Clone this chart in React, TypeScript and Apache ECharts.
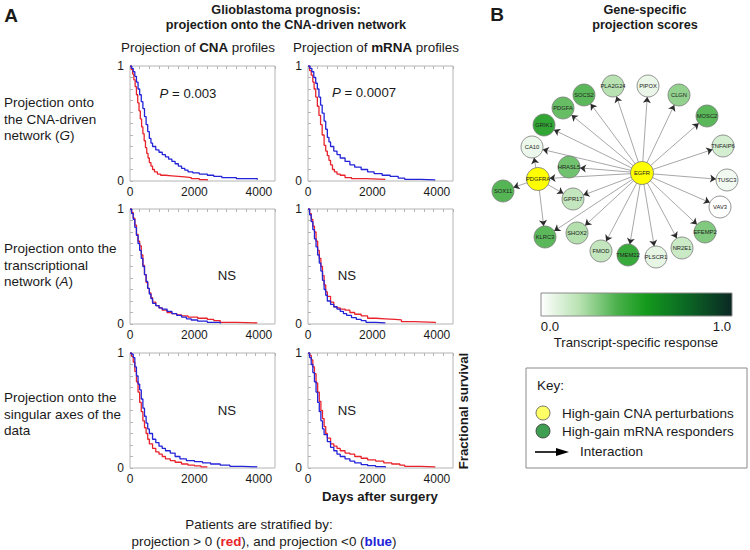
import React, { useEffect, useRef } from 'react';
import * as echarts from 'echarts';

// ---------- survival curves (days, fraction surviving) ----------
const cnaG_red = [[0,1],[40,0.97],[80,0.93],[120,0.88],[160,0.82],[200,0.75],[240,0.68],[280,0.61],[320,0.54],[360,0.47],[400,0.41],[440,0.35],[480,0.29],[520,0.24],[560,0.2],[600,0.16],[650,0.13],[700,0.1],[760,0.08],[850,0.06],[950,0.05],[1100,0.045],[1300,0.04],[1500,0.035],[1700,0.03],[1900,0.02],[2150,0.012],[2400,0.005]];
const cnaG_blue = [[0,1],[50,0.98],[100,0.95],[150,0.91],[200,0.86],[250,0.8],[300,0.75],[350,0.69],[400,0.63],[450,0.56],[500,0.49],[550,0.43],[600,0.37],[650,0.33],[700,0.3],[800,0.27],[900,0.25],[1000,0.23],[1100,0.21],[1200,0.19],[1300,0.17],[1400,0.15],[1500,0.13],[1600,0.11],[1700,0.095],[1800,0.08],[1950,0.07],[2150,0.06],[2400,0.05],[2600,0.04],[2850,0.03],[3300,0.02],[3950,0.01]];
const mrnaG_red = [[0,1],[50,0.96],[100,0.92],[150,0.86],[190,0.8],[240,0.73],[290,0.65],[340,0.57],[390,0.49],[440,0.4],[500,0.31],[550,0.26],[600,0.22],[650,0.18],[700,0.14],[760,0.1],[820,0.08],[900,0.06],[1000,0.05],[1150,0.03],[1350,0.02],[1800,0.015],[2400,0.01]];
const mrnaG_blue = [[0,1],[60,0.98],[120,0.95],[180,0.9],[240,0.85],[290,0.8],[340,0.73],[390,0.66],[440,0.59],[500,0.52],[550,0.45],[600,0.38],[650,0.34],[700,0.3],[800,0.26],[900,0.23],[1000,0.2],[1150,0.17],[1300,0.14],[1450,0.12],[1650,0.1],[1850,0.08],[2050,0.065],[2300,0.05],[2550,0.04],[2800,0.025],[3000,0.015],[3500,0.01],[3950,0.005]];
const cnaA_red = [[0,1],[50,0.97],[100,0.92],[150,0.86],[200,0.78],[250,0.72],[300,0.68],[350,0.6],[400,0.51],[450,0.43],[500,0.36],[550,0.31],[600,0.27],[650,0.23],[700,0.19],[800,0.16],[900,0.14],[1000,0.12],[1150,0.1],[1300,0.09],[1450,0.08],[1600,0.07],[1800,0.06],[2100,0.05],[2400,0.04],[2600,0.03],[2800,0.015],[3300,0.01],[3950,0.005]];
const cnaA_blue = [[0,1],[50,0.96],[100,0.91],[150,0.84],[200,0.77],[250,0.7],[300,0.64],[350,0.57],[400,0.5],[450,0.43],[500,0.37],[550,0.31],[600,0.26],[650,0.22],[700,0.18],[800,0.16],[900,0.14],[1000,0.13],[1150,0.11],[1300,0.09],[1450,0.075],[1600,0.06],[1750,0.045],[1900,0.035],[2100,0.025],[2400,0.015],[2800,0.005]];
const mrnaA_red = [[0,1],[50,0.96],[100,0.91],[150,0.85],[200,0.8],[250,0.72],[300,0.64],[350,0.57],[400,0.5],[450,0.42],[500,0.34],[550,0.28],[600,0.24],[700,0.19],[800,0.15],[900,0.14],[1000,0.13],[1150,0.12],[1300,0.1],[1450,0.085],[1650,0.07],[1850,0.05],[2100,0.045],[2400,0.04],[2700,0.035],[2900,0.02],[3300,0.015],[3950,0.006]];
const mrnaA_blue = [[0,1],[50,0.95],[100,0.89],[150,0.82],[200,0.74],[250,0.67],[300,0.6],[350,0.53],[400,0.46],[450,0.38],[500,0.3],[550,0.25],[600,0.2],[700,0.17],[800,0.15],[900,0.13],[1000,0.11],[1100,0.09],[1200,0.075],[1350,0.055],[1500,0.04],[1650,0.03],[1800,0.015],[2100,0.01],[2400,0.005]];
const cnaS_red = [[0,1],[50,0.97],[100,0.92],[150,0.84],[200,0.75],[250,0.66],[300,0.57],[350,0.49],[400,0.41],[450,0.35],[500,0.3],[550,0.25],[600,0.21],[700,0.17],[800,0.14],[900,0.12],[1000,0.1],[1100,0.08],[1250,0.065],[1400,0.05],[1600,0.035],[1800,0.025],[2000,0.018],[2200,0.01],[2400,0.005]];
const cnaS_blue = [[0,1],[50,0.99],[100,0.96],[150,0.88],[200,0.8],[250,0.73],[300,0.68],[350,0.6],[400,0.52],[450,0.45],[500,0.39],[550,0.34],[600,0.3],[700,0.25],[800,0.22],[900,0.19],[1000,0.17],[1100,0.15],[1250,0.13],[1400,0.1],[1550,0.08],[1750,0.065],[2000,0.055],[2250,0.045],[2500,0.035],[2800,0.025],[3100,0.015],[3500,0.01],[3950,0.005]];
const mrnaS_red = [[0,1],[50,0.98],[100,0.94],[150,0.88],[200,0.82],[250,0.74],[300,0.66],[350,0.58],[400,0.5],[450,0.43],[500,0.36],[550,0.3],[600,0.26],[700,0.21],[800,0.19],[900,0.17],[1000,0.15],[1150,0.13],[1300,0.12],[1450,0.1],[1650,0.085],[1850,0.07],[2100,0.06],[2350,0.045],[2600,0.035],[2850,0.025],[3000,0.015],[3500,0.01],[3950,0.005]];
const mrnaS_blue = [[0,1],[50,0.96],[100,0.9],[150,0.83],[200,0.75],[250,0.66],[300,0.57],[350,0.49],[400,0.41],[450,0.34],[500,0.29],[600,0.23],[700,0.18],[800,0.15],[900,0.12],[1000,0.1],[1150,0.08],[1300,0.06],[1450,0.045],[1650,0.03],[1850,0.02],[2100,0.012],[2400,0.005]];

const panelRed = [cnaG_red, mrnaG_red, cnaA_red, mrnaA_red, cnaS_red, mrnaS_red];
const panelBlue = [cnaG_blue, mrnaG_blue, cnaA_blue, mrnaA_blue, cnaS_blue, mrnaS_blue];
const panelNotes = ['P = 0.003', 'P = 0.0007', 'NS', 'NS', 'NS', 'NS'];

const xTickLabels = [0, 2000, 4000];
const yTickLabels = [0, 1];
const X_MAX = 4500;

// ---------- network ----------
const geneNames = ['EGFR','PDGFRA','GRIK1','PDGFA','SOCS2','PLA2G24','PIPOX','CLGN','MOSC2','TNFAIP6','TUSC3','VAV3','EFEMP2','NR2E1','PLSCR1','TMEM22','FMOD','SHOX2','KLRC3','GPR17','SOX11','CA10','HRASL5'];
const geneX = [642,538,544,563,584,613,648,679,707,723,727,720,705,682,656,628,601,577,545,573,503,532,569];
const geneY = [173,179,125,108,95,86,86,95,116,146,180,207,232,248,257,255,251,233,237,199,191,147,167];
// transcript-specific response (null = CNA perturbation, drawn yellow)
const geneScore = [null,null,0.47,0.35,0.37,0.2,0.06,0.27,0.37,0.12,0.04,0.0,0.3,0.15,0.07,0.45,0.17,0.21,0.37,0.17,0.38,0.05,0.33];
const interactions: [string, string][] = [
  ['EGFR','PDGFRA'],['EGFR','GRIK1'],['EGFR','PDGFA'],['EGFR','SOCS2'],['EGFR','PLA2G24'],['EGFR','PIPOX'],
  ['EGFR','CLGN'],['EGFR','MOSC2'],['EGFR','TNFAIP6'],['EGFR','TUSC3'],['EGFR','VAV3'],['EGFR','EFEMP2'],
  ['EGFR','NR2E1'],['EGFR','PLSCR1'],['EGFR','TMEM22'],['EGFR','FMOD'],['EGFR','SHOX2'],['EGFR','KLRC3'],
  ['EGFR','GPR17'],['EGFR','CA10'],['EGFR','HRASL5'],
  ['PDGFRA','SOX11'],['PDGFRA','GPR17'],['PDGFRA','KLRC3'],['PDGFRA','CA10'],
];

const cbarStops = [0, 0.2, 0.4, 0.55, 0.75, 1];
const cbarColors = ['#ffffff', '#b8e2b2', '#4ab04a', '#149a1c', '#0b6a24', '#0b2824'];

const FF = '"Liberation Sans", Arial, Helvetica, sans-serif';

function hexToRgb(h: string) {
  const n = parseInt(h.slice(1), 16);
  return [(n >> 16) & 255, (n >> 8) & 255, n & 255];
}
function scoreColor(v: number) {
  for (let i = 1; i < cbarStops.length; i++) {
    if (v <= cbarStops[i]) {
      const t = (v - cbarStops[i - 1]) / (cbarStops[i] - cbarStops[i - 1]);
      const a = hexToRgb(cbarColors[i - 1]);
      const b = hexToRgb(cbarColors[i]);
      const c = a.map((x, k) => Math.round(x + (b[k] - x) * t));
      return `rgb(${c[0]},${c[1]},${c[2]})`;
    }
  }
  return cbarColors[cbarColors.length - 1];
}

const colLeft = [130, 308];
const rowTop = [66, 209, 353];
const PW = 145;
const PH = 115;

function txt(x: number, y: number, text: string, size: number, opts: any = {}) {
  return {
    type: 'text', x, y, silent: true,
    rotation: opts.rotation || 0,
    style: {
      text, fontSize: size, fontFamily: FF, fontWeight: opts.bold ? 'bold' : 'normal',
      fontStyle: opts.italic ? 'italic' : 'normal',
      fill: opts.color || '#1a1a1a',
      align: opts.align || 'center', textAlign: opts.align || 'center',
      verticalAlign: 'middle', textVerticalAlign: 'middle',
      rich: opts.rich, lineHeight: opts.lineHeight,
    },
  };
}

function buildOption() {
  const grid: any[] = [];
  const xAxis: any[] = [];
  const yAxis: any[] = [];
  const series: any[] = [];
  const graphic: any[] = [];

  for (let i = 0; i < 6; i++) {
    const r = Math.floor(i / 2), c = i % 2;
    grid.push({ left: colLeft[c], top: rowTop[r], width: PW, height: PH, show: true, borderColor: '#b4b4b4', borderWidth: 1, containLabel: false, outerBoundsMode: 'none' });
    xAxis.push({
      gridIndex: i, type: 'value', min: 0, max: X_MAX, interval: 2000, position: 'bottom',
      axisLine: { show: false }, axisTick: { show: false }, splitLine: { show: false },
      axisLabel: { fontSize: 12, color: '#1a1a1a', fontFamily: FF, margin: 5,
        formatter: (v: number) => (xTickLabels.includes(v) ? String(v) : '') },
    });
    xAxis.push({
      gridIndex: i, type: 'value', min: 0, max: X_MAX, interval: 300, position: 'top',
      axisLine: { show: false }, splitLine: { show: false }, axisLabel: { show: false },
      axisTick: { show: true, inside: true, length: 3, lineStyle: { color: '#b4b4b4' } },
    });
    yAxis.push({
      gridIndex: i, type: 'value', min: 0, max: 1, interval: 0.1,
      axisLine: { show: false }, splitLine: { show: false },
      axisTick: { show: true, inside: true, length: 3, lineStyle: { color: '#b4b4b4' } },
      axisLabel: { fontSize: 12, color: '#1a1a1a', fontFamily: FF, margin: 6,
        formatter: (v: number) => { const k = yTickLabels.find((t) => Math.abs(t - v) < 1e-6); return k === undefined ? '' : String(k); } },
    });
    series.push({ type: 'line', xAxisIndex: 2 * i, yAxisIndex: i, data: panelRed[i], step: 'end', symbol: 'none', silent: true, lineStyle: { width: 1.3, color: '#e8232b' }, z: 2 });
    series.push({ type: 'line', xAxisIndex: 2 * i, yAxisIndex: i, data: panelBlue[i], step: 'end', symbol: 'none', silent: true, lineStyle: { width: 1.3, color: '#2323d8' }, z: 3 });
  }

  // network grid
  grid.push({ left: 480, top: 60, width: 270, height: 230, show: false, containLabel: false, outerBoundsMode: 'none' });
  xAxis.push({ gridIndex: 6, type: 'value', min: 480, max: 750, show: false });
  yAxis.push({ gridIndex: 6, type: 'value', min: 60, max: 290, inverse: true, show: false });

  const nodes = geneNames.map((name, k) => {
    const s = geneScore[k];
    const pert = s === null;
    return {
      name, value: [geneX[k], geneY[k]],
      symbolSize: pert ? 23 : 22,
      itemStyle: { color: pert ? '#ffff00' : scoreColor(s as number), borderColor: '#7a7a7a', borderWidth: 0.8 },
    };
  });
  const links = interactions.map(([s, t]) => ({ source: s, target: t }));
  series.push({
    type: 'graph', coordinateSystem: 'cartesian2d', xAxisIndex: 12, yAxisIndex: 6,
    data: nodes, links, silent: true, z: 3,
    edgeSymbol: ['none', 'none'],
    lineStyle: { color: '#a8a8a8', width: 1, opacity: 1, curveness: 0 },
    label: { show: true, position: 'inside', fontSize: 5.8, color: '#222', fontFamily: FF },
    emphasis: { disabled: true },
  });
  series.push({
    type: 'graph', coordinateSystem: 'cartesian2d', xAxisIndex: 12, yAxisIndex: 6,
    data: nodes.map((n) => ({ ...n, itemStyle: { opacity: 0 } })), links, silent: true, z: 4,
    edgeSymbol: ['none', 'arrow'], edgeSymbolSize: [0, 6],
    lineStyle: { color: '#2a2a2a', width: 0, opacity: 1, curveness: 0 },
    label: { show: false },
    emphasis: { disabled: true },
  });

  // ---------- texts panel A ----------
  graphic.push(txt(11, 15, 'A', 19, { bold: true }));
  graphic.push(txt(286, 10, 'Glioblastoma prognosis:', 12.7, { bold: true }));
  graphic.push(txt(286, 25, 'projection onto the CNA-driven network', 12.7, { bold: true }));
  const richBase = { fontSize: 13.4, fontFamily: FF, fill: '#1a1a1a', color: '#1a1a1a' };
  graphic.push(txt(198, 47, '{a|Projection of }{b|CNA}{a| profiles}', 13.4, {
    rich: { a: { ...richBase }, b: { ...richBase, fontWeight: 'bold' } } }));
  graphic.push(txt(376, 47, '{a|Projection of }{b|mRNA}{a| profiles}', 13.4, {
    rich: { a: { ...richBase }, b: { ...richBase, fontWeight: 'bold' } } }));

  const rowRich = { a: { ...richBase, fontSize: 13.5, lineHeight: 16.5 }, i: { ...richBase, fontSize: 13.5, lineHeight: 16.5, fontStyle: 'italic' } };
  graphic.push(txt(4, 119, '{a|Projection onto}\n{a|the CNA-driven}\n{a|network (}{i|G}{a|)}', 13.5, { align: 'left', rich: rowRich }));
  graphic.push(txt(4, 265, '{a|Projection onto the}\n{a|transcriptional}\n{a|network (}{i|A}{a|)}', 13.5, { align: 'left', rich: rowRich }));
  graphic.push(txt(4, 414, '{a|Projection onto the}\n{a|singular axes of the}\n{a|data}', 13.5, { align: 'left', rich: rowRich }));

  const noteX = [188, 364, 227, 347, 227, 347];
  const noteY = [93, 92, 275, 275, 410, 410];
  for (let i = 0; i < 6; i++) {
    const t = panelNotes[i];
    if (t.startsWith('P')) {
      graphic.push(txt(noteX[i], noteY[i], `{i|P}{a|${t.slice(1)}}`, 13.2, {
        rich: { a: { ...richBase, fontSize: 13.2 }, i: { ...richBase, fontSize: 13.2, fontStyle: 'italic' } } }));
    } else {
      graphic.push(txt(noteX[i], noteY[i], t, 13.2));
    }
  }
  graphic.push(txt(380, 496, 'Days after surgery', 13.2, { bold: true }));
  graphic.push(txt(463, 411, 'Fractional survival', 13.2, { bold: true, rotation: Math.PI / 2 }));
  graphic.push(txt(259, 524, 'Patients are stratified by:', 13.4));
  graphic.push(txt(264, 541, '{a|projection > 0 (}{r|red}{a|), and projection <0 (}{b|blue}{a|)}', 13.4, {
    rich: { a: { ...richBase }, r: { ...richBase, fontWeight: 'bold', fill: '#e8232b', color: '#e8232b' }, b: { ...richBase, fontWeight: 'bold', fill: '#2323d8', color: '#2323d8' } } }));

  // ---------- texts panel B ----------
  graphic.push(txt(497, 14, 'B', 19, { bold: true }));
  graphic.push(txt(645, 10, 'Gene-specific', 12.7, { bold: true }));
  graphic.push(txt(645, 25, 'projection scores', 12.7, { bold: true }));

  // colour bar
  graphic.push({
    type: 'rect', silent: true, shape: { x: 541, y: 293, width: 191, height: 23 },
    style: {
      stroke: '#8a8a8a', lineWidth: 1,
      fill: new echarts.graphic.LinearGradient(0, 0, 1, 0, cbarStops.map((o, k) => ({ offset: o, color: cbarColors[k] }))),
    },
  });
  graphic.push(txt(550, 326, '0.0', 13.2));
  graphic.push(txt(722, 326, '1.0', 13.2));
  graphic.push(txt(636, 342, 'Transcript-specific response', 13.2));

  // key box
  graphic.push({ type: 'rect', silent: true, shape: { x: 526, y: 368, width: 221, height: 100 }, style: { fill: '#fff', stroke: '#8a8a8a', lineWidth: 1 } });
  graphic.push(txt(537, 385, 'Key:', 13.5, { align: 'left' }));
  graphic.push({ type: 'circle', silent: true, shape: { cx: 543, cy: 413, r: 7 }, style: { fill: '#ffff66', stroke: '#555', lineWidth: 0.8 } });
  graphic.push({ type: 'circle', silent: true, shape: { cx: 543, cy: 431, r: 7 }, style: { fill: '#3f9e52', stroke: '#333', lineWidth: 0.8 } });
  graphic.push(txt(562, 413, 'High-gain CNA perturbations', 13.5, { align: 'left' }));
  graphic.push(txt(562, 431, 'High-gain mRNA responders', 13.5, { align: 'left' }));
  graphic.push({ type: 'line', silent: true, shape: { x1: 535, y1: 452, x2: 559, y2: 452 }, style: { stroke: '#000', lineWidth: 1.6 } });
  graphic.push({ type: 'polygon', silent: true, shape: { points: [[556, 448], [569, 452], [556, 456]] }, style: { fill: '#000' } });
  graphic.push(txt(580, 451, 'Interaction', 13.5, { align: 'left' }));

  return {
    animation: false,
    backgroundColor: '#ffffff',
    grid, xAxis, yAxis, series, graphic,
  };
}

export default function App() {
  const ref = useRef<HTMLDivElement>(null);
  useEffect(() => {
    const chart = echarts.init(ref.current as HTMLDivElement, null, { renderer: 'svg' });
    chart.setOption(buildOption() as any);
    return () => chart.dispose();
  }, []);
  return <div ref={ref} style={{ position: 'absolute', left: 0, top: 0, width: 750, height: 550, background: '#fff' }} />;
}
